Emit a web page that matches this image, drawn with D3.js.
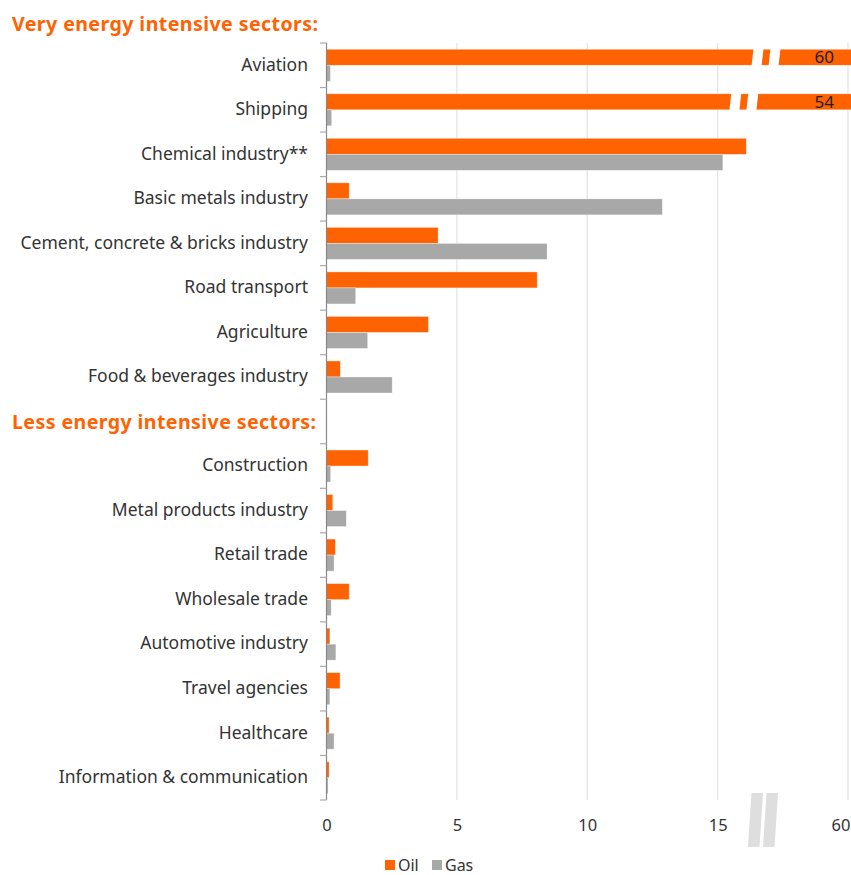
<!DOCTYPE html>
<html>
<head>
<meta charset="utf-8">
<script src="https://cdn.jsdelivr.net/npm/d3@7"></script>
<style>
  body { margin: 0; background: #fff; }
  svg { display: block; font-family: "Noto Sans", "Open Sans", sans-serif; }
</style>
</head>
<body>
<div id="chart"></div>
<script>
// datos (oil / gas)
const veryCats = ["Aviation", "Shipping", "Chemical industry**", "Basic metals industry",
  "Cement, concrete & bricks industry", "Road transport", "Agriculture", "Food & beverages industry"];
const veryOil = [60, 54, 16.1, 0.87, 4.28, 8.08, 3.91, 0.53];
const veryGas = [0.15, 0.2, 15.2, 12.88, 8.46, 1.12, 1.58, 2.52];

const lessCats = ["Construction", "Metal products industry", "Retail trade", "Wholesale trade",
  "Automotive industry", "Travel agencies", "Healthcare", "Information & communication"];
const lessOil = [1.6, 0.24, 0.34, 0.87, 0.13, 0.52, 0.1, 0.1];
const lessGas = [0.16, 0.76, 0.29, 0.18, 0.36, 0.13, 0.29, 0.06];

const headers = ["Very energy intensive sectors:", "Less energy intensive sectors:"];
const tickVals = [0, 5, 10, 15, 20];
const tickLabels = ["0", "5", "10", "15", "60"];
const seriesNames = ["Oil", "Gas"];
const breakAt = { "Aviation": 16.3, "Shipping": 15.45 }; // donde se corta la barra

const width = 851, height = 875;
const orange = "#ff6200", grey = "#a8a8a8";

// filas: las categorias + una fila vacia para el segundo titulo
const rows = [...veryCats, "__less", ...lessCats];
const data = [];
veryCats.forEach((c, i) => data.push({ cat: c, Oil: veryOil[i], Gas: veryGas[i] }));
lessCats.forEach((c, i) => data.push({ cat: c, Oil: lessOil[i], Gas: lessGas[i] }));

const svg = d3.select("#chart").append("svg")
  .attr("width", width).attr("height", height);

const x = d3.scaleLinear().domain([0, 20]).range([326.5, 848]);
const y = d3.scaleBand().domain(rows).range([43, 800]);
const y1 = d3.scaleBand().domain(seriesNames).range([0, y.bandwidth()]).paddingOuter(0.39);

// lineas de la cuadricula
svg.append("g").selectAll("line").data(tickVals.slice(1)).join("line")
  .attr("x1", d => x(d)).attr("x2", d => x(d))
  .attr("y1", 43).attr("y2", 800)
  .attr("stroke", "#e4e4e4").attr("stroke-width", 1.3);

// barras
const grp = svg.append("g").selectAll("g").data(data).join("g")
  .attr("transform", d => `translate(0,${y(d.cat)})`);

grp.selectAll("rect").data(d => seriesNames.map(k => ({ key: k, value: d[k], cat: d.cat }))).join("rect")
  .attr("x", x(0))
  .attr("y", d => y1(d.key))
  .attr("width", d => (d.value > 20 ? width + 5 : x(d.value)) - x(0))
  .attr("height", y1.bandwidth())
  .attr("fill", d => d.key === "Oil" ? orange : grey)
  .attr("stroke", "#fff").attr("stroke-opacity", 0.5).attr("stroke-width", 0.7);

// cortes en las barras largas
const broken = data.filter(d => d.Oil > 20);
const bh = y1.bandwidth();
broken.forEach(d => {
  const bx = x(breakAt[d.cat]);
  const top = y(d.cat) + y1("Oil") - 1;
  const bot = top + bh + 2;
  [0, 17].forEach(off => {
    const x0 = bx + off;
    svg.append("polygon")
      .attr("points", `${x0 + 2},${top} ${x0 + 12},${top} ${x0 + 10},${bot} ${x0},${bot}`)
      .attr("fill", "#fff");
  });
  svg.append("text")
    .attr("x", 834).attr("y", y(d.cat) + y1("Oil") + bh / 2)
    .attr("dy", "0.36em").attr("text-anchor", "end")
    .attr("font-size", 17).attr("fill", "#222")
    .text(d.Oil);
});

// eje y con marcas entre categorias
const axisY = svg.append("g");
axisY.append("line").attr("x1", 326.5).attr("x2", 326.5).attr("y1", 43).attr("y2", 800)
  .attr("stroke", "#888").attr("stroke-width", 1.2);
const bounds = rows.map(r => y(r)).concat([800]);
axisY.selectAll(".tk").data(bounds).join("line")
  .attr("x1", 320).attr("x2", 326.5)
  .attr("y1", d => d).attr("y2", d => d)
  .attr("stroke", "#aaa").attr("stroke-width", 1.2);

axisY.selectAll(".lbl").data(data).join("text")
  .attr("x", 308).attr("y", d => y(d.cat) + y.bandwidth() / 2 - 1)
  .attr("dy", "0.36em").attr("text-anchor", "end")
  .attr("font-size", 17.5).attr("fill", "#333")
  .text(d => d.cat);

// titulos de seccion
svg.append("text").attr("x", 12).attr("y", 43 - 19).attr("dy", "0.36em")
  .attr("font-size", 19.5).attr("font-weight", "bold").attr("fill", orange)
  .attr("textLength", 306).attr("lengthAdjust", "spacing")
  .text(headers[0]);
svg.append("text").attr("x", 12).attr("y", y("__less") + y.bandwidth() / 2).attr("dy", "0.36em")
  .attr("font-size", 19.5).attr("font-weight", "bold").attr("fill", orange)
  .attr("textLength", 304).attr("lengthAdjust", "spacing")
  .text(headers[1]);

// eje x
const xAxis = d3.axisBottom(x).tickValues(tickVals).tickFormat((d, i) => tickLabels[i]).tickSize(0).tickPadding(19);
const gx = svg.append("g").attr("transform", "translate(0,800)").call(xAxis);
gx.select(".domain").remove();
gx.selectAll("text").attr("font-size", 16.5).attr("fill", "#333")
  .style("font-family", "\"Noto Sans\", sans-serif");
// la ultima etiqueta queda pegada al borde: se alinea a la derecha para que no se corte
gx.selectAll(".tick").filter(d => d === 20).select("text")
  .attr("text-anchor", "end").attr("x", width - 1 - x(20));

// simbolo de corte en el eje
[0, 15].forEach(off => {
  const x0 = 748 + off;
  svg.append("polygon")
    .attr("points", `${x0 + 3.5},793 ${x0 + 15},793 ${x0 + 11.5},847 ${x0},847`)
    .attr("fill", "#dedede");
});

// leyenda
const legend = svg.append("g").attr("transform", "translate(385,865)");
const items = legend.selectAll("g").data(seriesNames).join("g")
  .attr("transform", (d, i) => `translate(${i * 47},0)`);
items.append("rect").attr("x", 0).attr("y", -5).attr("width", 10).attr("height", 10)
  .attr("fill", d => d === "Oil" ? orange : grey);
items.append("text").attr("x", 13).attr("dy", "0.36em")
  .attr("font-size", 16).attr("fill", "#333").text(d => d);
</script>
</body>
</html>
